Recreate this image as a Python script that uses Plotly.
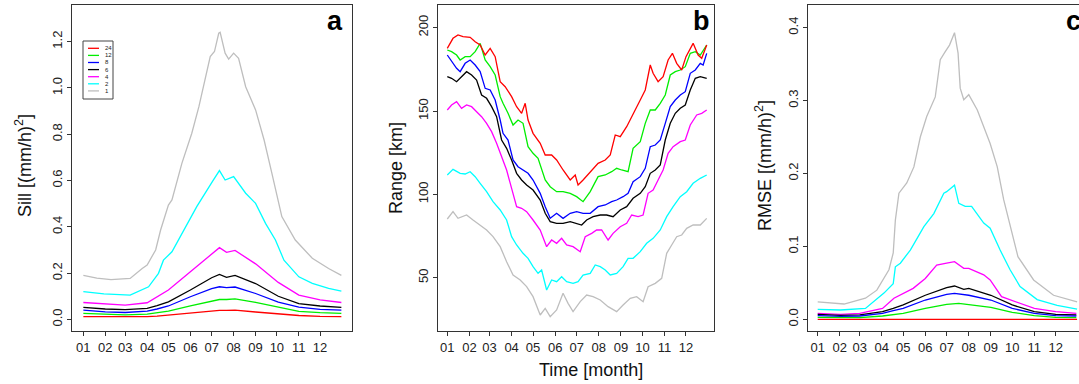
import plotly.graph_objects as go

W, H = 1079, 384

MONTH_TICKS = [1, 32, 60, 91, 121, 152, 182, 213, 244, 274, 305, 335]
MONTH_LABELS = ["01", "02", "03", "04", "05", "06", "07", "08", "09", "10", "11", "12"]

SERIES_NAMES = ["24", "12", "8", "6", "4", "2", "1"]
SERIES_COLORS = ["#FF0000", "#00EE00", "#0000FF", "#000000", "#FF00FF", "#00FFFF", "#BEBEBE"]

# ---------------- Panel a : Sill ----------------
a_days_low = [1, 32, 60, 91, 105, 121, 152, 182, 193, 203, 215, 244, 276, 305, 335, 365]
a_24 = [0.012, 0.011, 0.010, 0.012, 0.014, 0.019, 0.029, 0.037, 0.039, 0.039, 0.040, 0.032, 0.024, 0.017, 0.013, 0.012]
a_12 = [0.026, 0.022, 0.020, 0.023, 0.028, 0.036, 0.058, 0.079, 0.086, 0.086, 0.089, 0.074, 0.052, 0.035, 0.029, 0.026]
a_8 = [0.040, 0.033, 0.030, 0.036, 0.045, 0.058, 0.098, 0.133, 0.141, 0.137, 0.140, 0.112, 0.075, 0.053, 0.043, 0.040]
a_6 = [0.052, 0.045, 0.042, 0.048, 0.060, 0.076, 0.127, 0.180, 0.194, 0.182, 0.190, 0.155, 0.100, 0.068, 0.058, 0.052]
a_4 = [0.073, 0.066, 0.062, 0.072, 0.098, 0.127, 0.206, 0.285, 0.310, 0.290, 0.298, 0.240, 0.160, 0.105, 0.084, 0.073]
a_days_2 = [1, 30, 67, 93, 107, 114, 126, 145, 161, 183, 193, 201, 213, 230, 244, 258, 272, 284, 305, 324, 347, 365]
a_2 = [0.120, 0.110, 0.105, 0.141, 0.199, 0.256, 0.292, 0.400, 0.487, 0.595, 0.643, 0.602, 0.617, 0.545, 0.501, 0.415, 0.343, 0.256, 0.184, 0.156, 0.134, 0.122]
a_days_1 = [1, 20, 40, 60, 67, 84, 91, 103, 110, 121, 126, 140, 154, 164, 173, 180, 186, 192, 194, 201, 206, 213, 220, 230, 244, 256, 267, 281, 300, 324, 347, 365]
a_1 = [0.190, 0.178, 0.172, 0.174, 0.177, 0.220, 0.235, 0.300, 0.386, 0.494, 0.516, 0.674, 0.804, 0.919, 1.049, 1.135, 1.157, 1.236, 1.240, 1.150, 1.124, 1.150, 1.128, 1.005, 0.905, 0.775, 0.631, 0.444, 0.343, 0.264, 0.220, 0.190]

# ---------------- Panel b : Range ----------------
b_days_24 = [1, 9, 16, 23, 33, 40, 47, 54, 61, 68, 75, 82, 91, 98, 105, 110, 114, 121, 131, 138, 147, 154, 163, 173, 180, 184, 191, 201, 212, 222, 229, 236, 243, 252, 261, 271, 278, 285, 289, 296, 303, 310, 316, 322, 329, 335, 345, 352, 357, 364]
b_24 = [187.6, 193.6, 195.6, 194.6, 194.2, 191.6, 189.6, 183.6, 187.6, 182.6, 167.6, 164.6, 158.6, 152.6, 148.6, 154.6, 144.6, 136.6, 130.6, 123.6, 123.6, 120.6, 114.6, 108.6, 111.6, 105.6, 108.6, 113.6, 118.6, 120.6, 123.6, 135.6, 134.6, 140.6, 148.6, 156.6, 162.6, 177.6, 172.6, 167.6, 170.6, 180.6, 184.6, 178.6, 174.6, 182.6, 190.6, 183.6, 181.6, 189.6]
b_days_12 = [1, 7, 14, 19, 26, 33, 40, 47, 54, 61, 68, 75, 79, 86, 93, 100, 107, 114, 121, 128, 138, 145, 154, 163, 173, 182, 191, 201, 212, 222, 231, 238, 245, 254, 261, 271, 278, 285, 292, 299, 306, 313, 320, 327, 334, 341, 348, 355, 364]
b_12 = [186.6, 185.6, 183.6, 180.6, 182.6, 182.6, 185.6, 190.6, 180.6, 176.6, 171.6, 158.6, 154.6, 148.6, 141.6, 144.6, 142.6, 128.6, 124.6, 121.6, 108.6, 104.6, 101.6, 101.6, 100.6, 98.6, 95.6, 101.6, 110.6, 111.6, 113.6, 115.6, 114.6, 113.6, 127.6, 131.6, 142.6, 150.6, 150.6, 154.6, 159.6, 171.6, 173.6, 174.6, 176.6, 184.6, 185.6, 183.6, 189.6]
b_days_8 = [1, 7, 14, 19, 26, 33, 40, 47, 54, 61, 68, 75, 79, 86, 93, 100, 107, 114, 121, 131, 138, 145, 154, 163, 173, 182, 191, 201, 212, 222, 231, 238, 247, 254, 261, 271, 278, 285, 292, 299, 306, 313, 320, 327, 334, 341, 348, 355, 359, 364]
b_8 = [183.6, 179.6, 175.6, 173.6, 178.6, 180.6, 177.6, 173.6, 163.6, 162.6, 156.6, 144.6, 136.6, 132.6, 120.6, 116.6, 114.6, 112.6, 108.6, 100.6, 92.6, 85.6, 88.6, 85.6, 88.6, 89.6, 88.6, 88.6, 92.6, 93.6, 95.6, 96.6, 98.6, 100.6, 107.6, 110.6, 115.6, 128.6, 129.6, 132.6, 142.6, 152.6, 156.6, 159.6, 161.6, 172.6, 174.6, 178.6, 177.6, 184.6]
b_days_6 = [1, 7, 14, 21, 28, 35, 42, 49, 56, 63, 70, 77, 84, 91, 98, 105, 112, 121, 131, 138, 145, 154, 163, 173, 182, 189, 196, 205, 215, 224, 233, 243, 252, 261, 271, 278, 285, 292, 299, 306, 313, 320, 327, 334, 341, 348, 355, 364]
b_6 = [170.6, 169.6, 167.6, 170.6, 173.6, 171.6, 168.6, 159.6, 157.6, 152.6, 146.6, 132.6, 127.6, 120.6, 112.6, 108.6, 105.6, 102.6, 96.6, 88.6, 83.6, 82.6, 82.6, 83.6, 82.6, 81.6, 84.6, 86.6, 87.6, 87.6, 86.6, 90.6, 92.6, 97.6, 100.6, 104.6, 112.6, 114.6, 117.6, 132.6, 142.6, 148.6, 151.6, 153.6, 162.6, 169.6, 170.6, 169.6]
b_days_4 = [1, 7, 14, 21, 28, 35, 42, 49, 56, 63, 70, 77, 84, 91, 98, 105, 112, 121, 131, 140, 147, 154, 161, 168, 177, 187, 194, 203, 210, 217, 226, 233, 243, 252, 259, 268, 275, 282, 289, 296, 303, 310, 317, 327, 334, 341, 350, 357, 364]
b_4 = [150.6, 153.6, 155.6, 151.6, 153.6, 152.6, 149.6, 146.6, 142.6, 137.6, 130.6, 122.6, 114.6, 103.6, 92.6, 91.6, 89.6, 84.6, 78.6, 68.6, 72.6, 70.6, 73.6, 69.6, 68.6, 65.6, 74.6, 76.6, 78.6, 78.6, 72.6, 76.6, 80.6, 82.6, 87.6, 86.6, 87.6, 100.6, 102.6, 108.6, 114.6, 124.6, 128.6, 131.6, 132.6, 141.6, 147.6, 148.6, 150.6]
b_days_2 = [1, 9, 19, 26, 33, 40, 47, 56, 65, 75, 84, 91, 98, 107, 114, 121, 128, 133, 140, 147, 154, 161, 168, 177, 184, 191, 201, 208, 215, 222, 229, 238, 247, 254, 261, 271, 280, 289, 299, 308, 317, 327, 336, 345, 355, 364]
b_2 = [111.6, 115.0, 112.6, 112.2, 113.6, 110.6, 106.6, 101.6, 95.6, 90.6, 84.6, 74.6, 69.6, 64.6, 61.6, 56.6, 52.6, 54.6, 42.6, 48.6, 47.6, 50.6, 47.6, 46.6, 47.6, 51.6, 52.6, 57.6, 56.6, 54.6, 51.6, 52.6, 56.6, 61.6, 61.6, 65.6, 70.6, 73.6, 78.6, 86.6, 92.6, 98.6, 101.6, 106.6, 109.6, 111.6]
b_days_1 = [1, 9, 16, 28, 37, 47, 56, 65, 75, 84, 93, 103, 112, 121, 131, 138, 145, 154, 163, 170, 177, 187, 196, 205, 215, 226, 238, 247, 257, 266, 275, 282, 292, 301, 308, 315, 322, 329, 336, 345, 355, 364]
b_1 = [85.2, 89.6, 85.6, 87.6, 84.6, 81.6, 78.6, 74.6, 68.6, 59.6, 51.6, 48.6, 44.6, 38.6, 27.6, 31.6, 26.6, 30.6, 40.6, 34.6, 29.6, 35.6, 39.6, 38.6, 36.6, 32.6, 29.6, 33.6, 37.6, 38.6, 35.6, 44.6, 46.6, 49.6, 64.6, 69.6, 74.6, 75.6, 79.6, 81.6, 81.6, 85.6]

# ---------------- Panel c : RMSE ----------------
c_days_24 = [1, 91, 182, 274, 365]
c_24 = [0.0, 0.0, 0.0, 0.0, 0.0]
c_days_12 = [1, 33, 60, 92, 121, 152, 182, 199, 213, 244, 274, 305, 335, 364]
c_12 = [0.0027, 0.0023, 0.0023, 0.0046, 0.0082, 0.0150, 0.0206, 0.0220, 0.0206, 0.0165, 0.0096, 0.0050, 0.0027, 0.0023]
c_days_8 = [1, 33, 60, 92, 107, 121, 152, 182, 193, 213, 244, 274, 305, 335, 364]
c_8 = [0.0050, 0.0041, 0.0046, 0.0082, 0.0119, 0.0150, 0.0265, 0.0343, 0.0357, 0.0330, 0.0265, 0.0150, 0.0082, 0.0050, 0.0046]
c_days_6 = [1, 33, 60, 92, 107, 121, 152, 182, 193, 206, 213, 244, 274, 305, 335, 364]
c_6 = [0.0069, 0.0055, 0.0060, 0.0105, 0.0150, 0.0197, 0.0330, 0.0434, 0.0457, 0.0410, 0.0425, 0.0330, 0.0197, 0.0105, 0.0069, 0.0060]
c_days_4 = [1, 33, 60, 92, 108, 121, 135, 152, 168, 182, 193, 206, 213, 234, 243, 259, 274, 305, 335, 364]
c_4 = [0.0082, 0.0069, 0.0082, 0.0150, 0.0290, 0.0350, 0.0425, 0.0560, 0.0745, 0.0770, 0.0790, 0.0700, 0.0700, 0.0610, 0.0540, 0.0310, 0.0260, 0.0150, 0.0105, 0.0082]
c_days_2 = [1, 33, 68, 94, 107, 110, 117, 131, 150, 164, 178, 182, 193, 199, 208, 217, 234, 243, 257, 271, 285, 309, 337, 365]
c_2 = [0.0137, 0.0128, 0.0150, 0.0360, 0.0490, 0.0720, 0.0770, 0.0950, 0.1270, 0.1450, 0.1730, 0.1750, 0.1840, 0.1590, 0.1550, 0.1550, 0.1320, 0.1250, 0.0950, 0.0680, 0.0450, 0.0270, 0.0190, 0.0140]
c_days_1 = [1, 38, 68, 84, 101, 107, 110, 115, 126, 136, 145, 154, 166, 173, 180, 186, 193, 198, 201, 206, 213, 225, 243, 253, 262, 271, 282, 304, 332, 365]
c_1 = [0.024, 0.021, 0.029, 0.040, 0.068, 0.091, 0.136, 0.173, 0.187, 0.209, 0.250, 0.278, 0.305, 0.356, 0.367, 0.376, 0.393, 0.365, 0.317, 0.301, 0.308, 0.287, 0.241, 0.209, 0.164, 0.127, 0.086, 0.054, 0.033, 0.024]

PANELS = [
    ("x", "y", [(a_days_low, a_24), (a_days_low, a_12), (a_days_low, a_8), (a_days_low, a_6),
                (a_days_low, a_4), (a_days_2, a_2), (a_days_1, a_1)]),
    ("x2", "y2", [(b_days_24, b_24), (b_days_12, b_12), (b_days_8, b_8), (b_days_6, b_6),
                  (b_days_4, b_4), (b_days_2, b_2), (b_days_1, b_1)]),
    ("x3", "y3", [(c_days_24, c_24), (c_days_12, c_12), (c_days_8, c_8), (c_days_6, c_6),
                  (c_days_4, c_4), (c_days_2, c_2), (c_days_1, c_1)]),
]

FONT = "Liberation Sans, Arial, Helvetica, sans-serif"
AX = "#333333"


def px_x(p):
    return p / W


def px_y(p):
    return 1 - p / H


fig = go.Figure()
for xa, ya, series in PANELS:
    for k in reversed(range(len(series))):
        d, v = series[k]
        fig.add_trace(go.Scatter(
            x=d, y=v, xaxis=xa, yaxis=ya, mode="lines", name=SERIES_NAMES[k],
            line=dict(color=SERIES_COLORS[k], width=1.3), showlegend=False,
            hoverinfo="skip"))

ydom = [px_y(331), px_y(5)]


def xax(dom, rng, mirror=True):
    return dict(domain=dom, range=rng, tickmode="array", tickvals=MONTH_TICKS,
                ticktext=MONTH_LABELS, ticks="outside", ticklen=4, tickcolor=AX,
                showline=True, linecolor=AX, linewidth=1, mirror=mirror,
                showgrid=False, zeroline=False,
                tickfont=dict(family=FONT, size=13, color="#222222"))


def yax(anchor, rng, tickvals, fmt, mirror=True):
    return dict(domain=ydom, range=rng, anchor=anchor, tickmode="array", tickvals=tickvals,
                tickformat=fmt, tickangle=-90, ticks="outside", ticklen=4, tickcolor=AX,
                showline=True, linecolor=AX, linewidth=1, mirror=mirror,
                showgrid=False, zeroline=False,
                tickfont=dict(family=FONT, size=13, color="#222222"))


fig.update_layout(
    width=W, height=H, margin=dict(l=0, r=0, t=0, b=0),
    paper_bgcolor="white", plot_bgcolor="white", showlegend=False,
    xaxis=dict(xax([px_x(72), px_x(352)], [-15, 380]), anchor="y"),
    yaxis=yax("x", [-0.05, 1.358], [0.0, 0.2, 0.4, 0.6, 0.8, 1.0, 1.2], ".1f"),
    xaxis2=dict(xax([px_x(438), px_x(714)], [-12, 374.2]), anchor="y2"),
    yaxis2=yax("x2", [18, 213.6], [50, 100, 150, 200], "d"),
    xaxis3=dict(xax([px_x(808), 1.0], [-12.6, 367.7]), anchor="y3"),
    yaxis3=yax("x3", [-0.016, 0.431], [0.0, 0.1, 0.2, 0.3, 0.4], ".1f", mirror=False),
)

ann = []
ann.append(dict(text="Sill [(mm/h)<sup>2</sup>]", x=px_x(23), y=px_y(166), textangle=-90))
ann.append(dict(text="Range [km]", x=px_x(396), y=px_y(168), textangle=-90))
ann.append(dict(text="RMSE [(mm/h)<sup>2</sup>]", x=px_x(763), y=px_y(166), textangle=-90))
ann.append(dict(text="Time [month]", x=px_x(591), y=px_y(370), textangle=0))
for a in ann:
    a.update(xref="paper", yref="paper", showarrow=False, xanchor="center", yanchor="middle",
             font=dict(family=FONT, size=18, color="#111111"))
for letter, lx, anchor in [("a", 335, "center"), ("b", 701, "center"), ("c", 1064, "left")]:
    ann.append(dict(text="<b>%s</b>" % letter, x=px_x(lx), y=px_y(21), xref="paper", yref="paper",
                    showarrow=False, xanchor=anchor, yanchor="middle",
                    font=dict(family=FONT, size=27, color="#000000")))

shapes = [dict(type="rect", xref="paper", yref="paper", x0=px_x(83), x1=px_x(113),
               y0=px_y(99), y1=px_y(41), line=dict(color="#444444", width=1),
               fillcolor="rgba(0,0,0,0)")]
for i, (name, col) in enumerate(zip(SERIES_NAMES, SERIES_COLORS)):
    yy = 48.3 + i * 7.1
    shapes.append(dict(type="line", xref="paper", yref="paper", x0=px_x(88), x1=px_x(99),
                       y0=px_y(yy), y1=px_y(yy), line=dict(color=col, width=1.3)))
    ann.append(dict(text=name, x=px_x(103), y=px_y(yy), xref="paper", yref="paper",
                    showarrow=False, xanchor="left", yanchor="middle",
                    font=dict(family=FONT, size=6, color="#222222")))

fig.update_layout(annotations=ann, shapes=shapes)
fig.write_html("out.html")
